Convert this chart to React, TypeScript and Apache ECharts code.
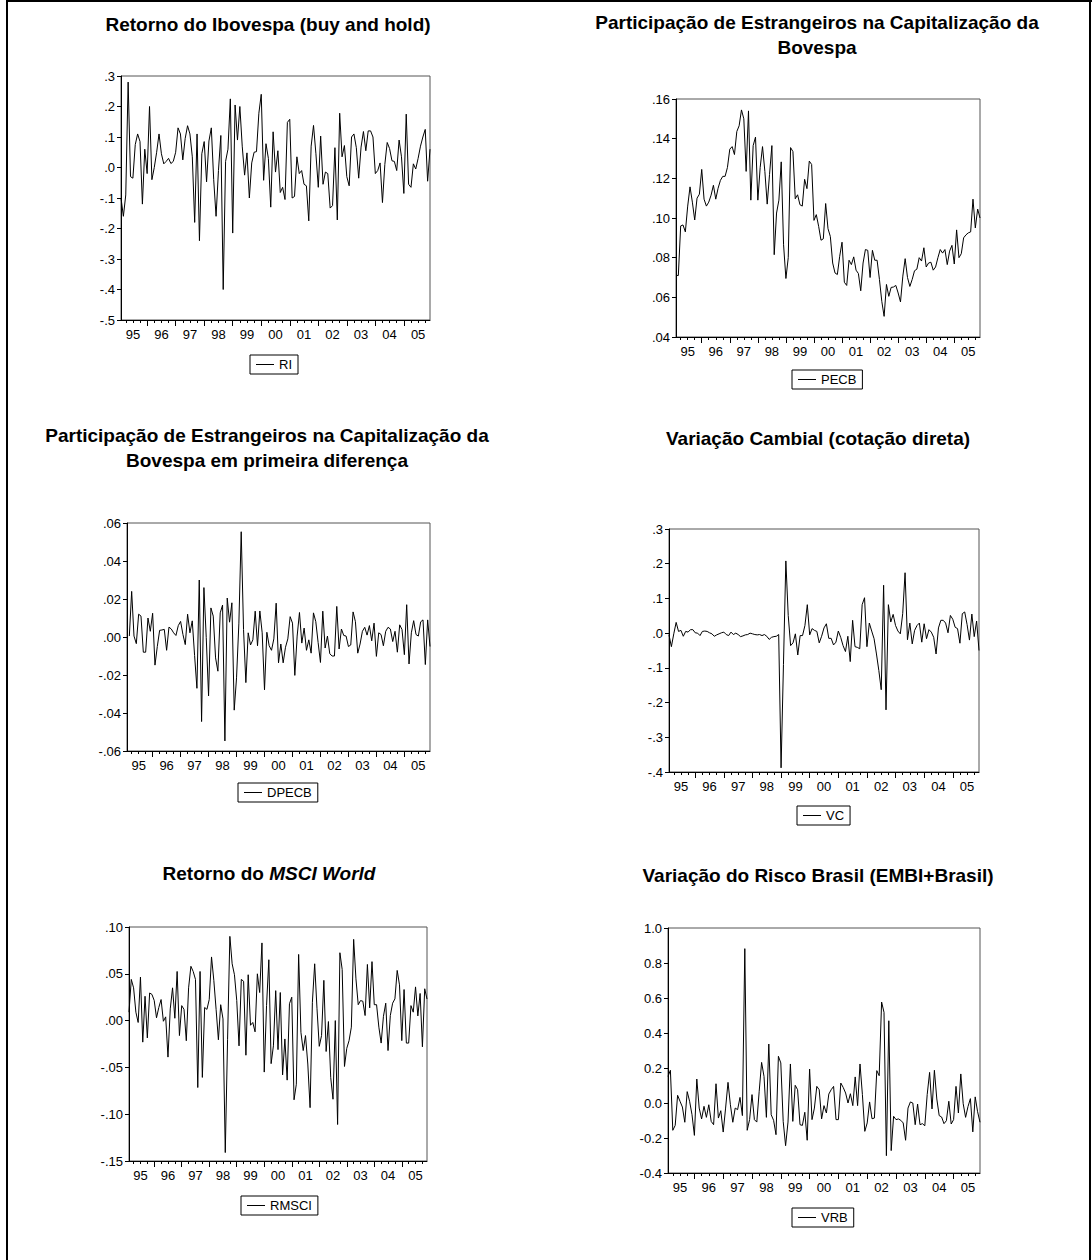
import React, { useEffect, useRef } from "react";
import * as echarts from "echarts";

const FONT = "'Liberation Sans', Arial, Helvetica, sans-serif";

// Monthly sample 1995:02 – 2005:12
const START_YEAR = 1995;
const START_MONTH = 2;
const N_OBS = 131;
const months: string[] = Array.from({ length: N_OBS }, (_, i) => {
  const t = START_MONTH - 1 + i;
  const y = START_YEAR + Math.floor(t / 12);
  const m = (t % 12) + 1;
  return `${y}-${String(m).padStart(2, "0")}`;
});
const monthOf = (i: number) => (START_MONTH - 1 + i) % 12; // 0 = Jan

const RI = [
  -0.10, -0.16, -0.09, 0.28, -0.03, -0.035, 0.075, 0.11, 0.085, -0.12, 0.06, -0.02,
  0.20, -0.04, 0.00, 0.05, 0.11, 0.045, 0.012, 0.02, 0.03, 0.013, 0.02, 0.05,
  0.13, 0.11, 0.025, 0.095, 0.137, 0.11, 0.035, -0.18, 0.11, -0.24, 0.045, 0.085,
  -0.047, 0.087, 0.13, -0.04, -0.16, -0.01, 0.105, -0.40, 0.02, 0.06, 0.225, -0.215,
  0.205, 0.09, 0.20, 0.07, -0.025, 0.048, -0.10, 0.015, 0.05, 0.052, 0.178, 0.24,
  -0.042, 0.078, 0.03, -0.13, 0.117, -0.015, 0.055, -0.082, -0.065, -0.105, 0.148, 0.158,
  -0.10, -0.095, 0.035, -0.02, -0.01, -0.055, -0.06, -0.175, 0.07, 0.138, 0.045, -0.065,
  0.103, -0.055, -0.015, -0.02, -0.133, -0.125, 0.065, -0.172, 0.178, 0.035, 0.072, -0.03,
  -0.06, 0.10, 0.11, 0.065, -0.035, 0.067, 0.118, 0.055, 0.12, 0.12, 0.10, -0.02,
  -0.01, 0.015, -0.115, 0.01, 0.082, 0.062, 0.022, 0.02, -0.01, 0.09, 0.035, -0.085,
  0.175, -0.055, -0.065, 0.012, -0.005, 0.03, 0.07, 0.10, 0.125, -0.045, 0.06,
];

const PECB = [
  0.0711, 0.071, 0.096, 0.0965, 0.093, 0.106, 0.1157, 0.108, 0.099, 0.110, 0.112, 0.1245,
  0.1095, 0.106, 0.108, 0.1115, 0.1165, 0.1095, 0.115, 0.119, 0.121, 0.121, 0.1255, 0.1347,
  0.136, 0.132, 0.1436, 0.1465, 0.1545, 0.150, 0.1235, 0.154, 0.109, 0.1365, 0.1408, 0.109,
  0.1255, 0.136, 0.1235, 0.107, 0.122, 0.1365, 0.0815, 0.1025, 0.109, 0.1283, 0.0865, 0.0695,
  0.080, 0.1355, 0.1335, 0.1097, 0.1117, 0.1067, 0.106, 0.1195, 0.1148, 0.1287, 0.127, 0.0988,
  0.1017, 0.0958, 0.0888, 0.0895, 0.1073, 0.0946, 0.0907, 0.0773, 0.0723, 0.0715, 0.0807, 0.0878,
  0.0676, 0.066, 0.0787, 0.0765, 0.0804, 0.0737, 0.072, 0.0633, 0.0773, 0.0841, 0.0837, 0.070,
  0.0837, 0.0787, 0.0787, 0.069, 0.058, 0.0504, 0.0665, 0.0605, 0.065, 0.0652, 0.066, 0.0622,
  0.0577, 0.0707, 0.0795, 0.070, 0.0655, 0.069, 0.0734, 0.0742, 0.080, 0.0783, 0.085, 0.0753,
  0.0773, 0.0777, 0.0737, 0.0753, 0.080, 0.0841, 0.0823, 0.0841, 0.0765, 0.0833, 0.0862, 0.0768,
  0.094, 0.080, 0.082, 0.090, 0.0915, 0.0925, 0.093, 0.1095, 0.095, 0.1045, 0.100,
];

const DPECB = [
  null, 0.0005, 0.024, 0.0005, -0.0035, 0.012, 0.011, -0.008, -0.008, 0.010, 0.003, 0.0125,
  -0.0148, -0.005, 0.0035, 0.0037, 0.004, -0.007, 0.0052, 0.0042, 0.0022, 0.0008, 0.006, 0.0082,
  0.0013, -0.004, 0.012, 0.0022, 0.0085, -0.0097, -0.027, 0.030, -0.0445, 0.026, -0.0003, -0.031,
  0.0153, 0.011, -0.011, -0.018, 0.0127, 0.0168, -0.0547, 0.0205, 0.0078, 0.018, -0.0385, -0.0215,
  0.0073, 0.0554, 0.0039, -0.024, 0.0022, -0.0042, -0.0015, 0.0136, -0.0046, 0.0137, 0.0022, -0.0278,
  0.0025, -0.0046, -0.007, -0.001, 0.0178, -0.0136, -0.0037, -0.0136, -0.0054, -0.001, 0.0107, 0.0073,
  -0.0202, 0.0005, 0.0129, -0.0032, 0.0047, -0.007, -0.0015, -0.0085, 0.0127, 0.0081, -0.0029, -0.0134,
  0.0136, -0.0058, 0.0005, -0.0088, -0.01, -0.01, 0.0161, -0.0063, 0.0042, 0.0008, 0.0005, -0.005,
  -0.0042, 0.0132, 0.0081, -0.0085, -0.0037, 0.003, 0.0051, 0.001, 0.006, -0.002, 0.0073, -0.0102,
  0.0022, 0.0013, -0.0046, 0.003, 0.0051, 0.0042, -0.0024, 0.003, -0.008, 0.0064, 0.0039, -0.0093,
  0.017, -0.0142, 0.0022, 0.0086, 0.0013, 0.0005, 0.008, 0.009, -0.0145, 0.009, -0.005,
];

const VC = [
  -0.005, -0.039, -0.002, 0.031, 0.005, 0.008, -0.009, 0.005, 0.003, 0.01, 0.01, 0.001,
  0.0, -0.007, 0.005, 0.006, 0.005, 0.001, -0.002, -0.009, -0.005, -0.002, 0.001, 0.003,
  -0.004, -0.007, 0.003, -0.004, 0.0, -0.004, -0.01, -0.008, -0.005, -0.004, 0.0, -0.002,
  -0.004, -0.005, -0.004, -0.007, -0.004, -0.009, -0.018, -0.012, -0.01, -0.009, -0.004, -0.388,
  -0.09, 0.208, 0.051, -0.036, -0.028, -0.002, -0.063, -0.007, -0.007, 0.022, 0.082, -0.005,
  0.013, 0.008, 0.005, -0.028, -0.009, 0.015, 0.027, -0.015, -0.015, -0.034, -0.026, 0.006,
  -0.012, -0.036, -0.053, -0.009, -0.082, 0.037, -0.039, -0.041, -0.045, 0.082, 0.102, -0.039,
  0.029, 0.006, -0.016, -0.06, -0.108, -0.163, 0.138, -0.221, 0.082, 0.032, 0.054, 0.022,
  0.006, -0.002, 0.056, 0.174, -0.019, 0.029, -0.031, 0.008, 0.022, 0.029, -0.026, 0.027,
  -0.016, 0.010, 0.003, -0.012, -0.060, 0.015, 0.037, 0.037, 0.029, 0.001, 0.051, 0.040,
  0.017, 0.013, -0.029, 0.056, 0.061, 0.025, -0.02, 0.055, -0.01, 0.035, -0.05,
];

const RMSCI = [
  0.009, 0.044, 0.035, 0.009, -0.002, 0.0465, -0.023, 0.026, -0.0185, 0.0295, 0.028, 0.0215,
  0.003, 0.014, 0.0225, -0.0007, 0.004, -0.039, 0.0125, 0.035, 0.0025, 0.0525, -0.016, 0.016,
  0.012, -0.0215, 0.035, 0.058, 0.0525, 0.044, -0.0715, 0.0525, -0.0607, 0.014, 0.012, 0.0225,
  0.068, 0.043, 0.012, -0.0205, 0.017, 0.0018, -0.141, -0.02, 0.09, 0.0607, 0.049, 0.0215,
  -0.027, 0.044, 0.042, -0.037, 0.049, -0.005, -0.002, -0.012, 0.05, 0.030, 0.083, -0.055,
  0.016, 0.065, -0.046, -0.027, 0.032, -0.031, 0.030, -0.058, -0.0196, -0.0636, 0.018, 0.025,
  -0.0846, -0.068, 0.0707, -0.0125, -0.032, -0.016, -0.0464, -0.093, 0.0196, 0.0607, 0.0132, -0.0275,
  -0.016, 0.043, -0.033, -0.001, -0.061, -0.084, 0.0, -0.111, 0.0725, 0.0546, -0.049, -0.0296,
  -0.0214, -0.007, 0.0868, 0.0446, 0.017, 0.0214, 0.0207, 0.0054, 0.06, 0.0136, 0.063, 0.017,
  0.017, -0.007, -0.024, 0.0046, 0.0186, -0.032, 0.0054, 0.0186, 0.0232, 0.0536, 0.0382, -0.0214,
  0.0332, -0.024, -0.024, 0.016, 0.009, 0.036, 0.005, 0.029, -0.028, 0.034, 0.023,
];

const VRB = [
  0.152, 0.187, -0.156, -0.128, 0.044, 0.01, -0.023, -0.11, 0.065, 0.01, -0.067, -0.185,
  0.137, -0.029, -0.091, -0.019, -0.082, -0.01, -0.105, -0.124, 0.11, -0.086, -0.044, -0.166,
  -0.029, 0.118, -0.01, -0.11, -0.029, -0.038, 0.032, -0.072, 0.882, -0.156, -0.095, 0.048,
  -0.095, -0.109, 0.067, 0.232, 0.152, -0.082, 0.337, -0.067, -0.099, -0.181, 0.267, 0.229,
  -0.105, -0.244, -0.109, 0.223, -0.105, 0.101, 0.076, -0.124, -0.128, -0.053, -0.213, 0.194,
  -0.095, -0.029, 0.095, 0.076, -0.091, -0.015, -0.057, 0.051, 0.076, 0.095, -0.095, -0.095,
  0.114, 0.089, 0.057, 0.0, 0.053, -0.015, 0.149, -0.015, 0.223, 0.048, -0.162, -0.114,
  0.006, -0.09, -0.086, 0.185, 0.156, 0.577, 0.518, -0.301, 0.47, -0.272, -0.076, -0.095,
  -0.091, -0.099, -0.114, -0.213, -0.029, 0.006, 0.0, -0.124, -0.006, -0.124, -0.118, -0.13,
  0.048, 0.175, -0.034, 0.187, 0.023, -0.072, -0.08, -0.118, -0.101, 0.01, -0.12, -0.095,
  0.095, -0.057, 0.166, -0.004, -0.082, -0.02, 0.025, -0.165, 0.035, -0.05, -0.11,
];

const dotFmt = (d: number) => (v: number) => {
  const r = Math.round(v * Math.pow(10, d)) / Math.pow(10, d);
  const s = Math.abs(r).toFixed(d).replace(/^0/, "");
  return (r < 0 ? "-" : "") + s;
};
const zeroFmt = (d: number) => (v: number) => {
  const r = Math.round(v * Math.pow(10, d)) / Math.pow(10, d);
  return (r < 0 ? "-" : "") + Math.abs(r).toFixed(d);
};

type Panel = {
  name: string;
  data: (number | null)[];
  title: string;
  rich?: boolean;
  min: number;
  max: number;
  interval: number;
  fmt: (v: number) => string;
  box: [number, number, number, number]; // left, top, right, bottom
  titlePos: [number, number];
  legendPos: [number, number];
};

const panels: Panel[] = [
  {
    name: "RI", data: RI, title: "Retorno do Ibovespa (buy and hold)",
    min: -0.5, max: 0.3, interval: 0.1, fmt: dotFmt(1),
    box: [121, 76, 430, 320], titlePos: [268, 24], legendPos: [250, 355],
  },
  {
    name: "PECB", data: PECB, title: "Participação de Estrangeiros na Capitalização da\nBovespa",
    min: 0.04, max: 0.16, interval: 0.02, fmt: dotFmt(2),
    box: [676, 99, 980, 337], titlePos: [817, 35], legendPos: [792, 370],
  },
  {
    name: "DPECB", data: DPECB, title: "Participação de Estrangeiros na Capitalização da\nBovespa em primeira diferença",
    min: -0.06, max: 0.06, interval: 0.02, fmt: dotFmt(2),
    box: [127, 523, 430, 751], titlePos: [267, 448], legendPos: [238, 783],
  },
  {
    name: "VC", data: VC, title: "Variação Cambial (cotação direta)",
    min: -0.4, max: 0.3, interval: 0.1, fmt: dotFmt(1),
    box: [669, 529, 979, 772], titlePos: [818, 438], legendPos: [797, 806],
  },
  {
    name: "RMSCI", data: RMSCI, title: "{a|Retorno do }{b|MSCI World}", rich: true,
    min: -0.15, max: 0.1, interval: 0.05, fmt: dotFmt(2),
    box: [129, 927, 427, 1161], titlePos: [269, 873], legendPos: [241, 1196],
  },
  {
    name: "VRB", data: VRB, title: "Variação do Risco Brasil (EMBI+Brasil)",
    min: -0.4, max: 1.0, interval: 0.2, fmt: zeroFmt(1),
    box: [668, 928, 980, 1173], titlePos: [818, 875], legendPos: [792, 1208],
  },
];

function buildOption() {
  const grid: any[] = [];
  const xAxis: any[] = [];
  const yAxis: any[] = [];
  const series: any[] = [];
  const legend: any[] = [];
  const graphic: any[] = [
    { type: "rect", shape: { x: 6, y: 0, width: 2, height: 1260 }, style: { fill: "#000" }, silent: true },
    { type: "rect", shape: { x: 6, y: 0, width: 1086, height: 2 }, style: { fill: "#000" }, silent: true },
    { type: "rect", shape: { x: 1089, y: 0, width: 2, height: 1260 }, style: { fill: "#000" }, silent: true },
  ];

  panels.forEach((p, k) => {
    const [l, t, r, b] = p.box;
    grid.push({
      left: l, top: t, width: r - l, height: b - t,
      show: true, borderColor: "#555", borderWidth: 1, backgroundColor: "transparent",
    });
    xAxis.push({
      type: "category", gridIndex: k, data: months, boundaryGap: false, position: "bottom", offset: 0,
      axisLine: { show: true, onZero: false, lineStyle: { color: "#000", width: 1 } },
      axisTick: { show: true, interval: (i: number) => monthOf(i) === 0, length: 6, lineStyle: { color: "#000", width: 1 } },
      axisLabel: {
        show: true, interval: (i: number) => monthOf(i) === 6,
        formatter: (v: string) => v.slice(2, 4),
        fontSize: 13, color: "#000", fontFamily: FONT, margin: 8,
      },
      splitLine: { show: false },
    });
    xAxis.push({
      type: "category", gridIndex: k, data: months, boundaryGap: false, position: "bottom", offset: 0,
      axisLine: { show: false, onZero: false },
      axisTick: { show: true, interval: (i: number) => monthOf(i) % 3 === 0, length: 3, lineStyle: { color: "#000", width: 1 } },
      axisLabel: { show: false },
      splitLine: { show: false },
    });
    yAxis.push({
      type: "value", gridIndex: k, min: p.min, max: p.max, interval: p.interval,
      axisLine: { show: true, onZero: false, lineStyle: { color: "#000", width: 1 } },
      axisTick: { show: true, length: 4, lineStyle: { color: "#000", width: 1 } },
      axisLabel: { formatter: p.fmt, fontSize: 13, color: "#000", fontFamily: FONT, margin: 6 },
      splitLine: { show: false },
    });
    series.push({
      name: p.name, type: "line", xAxisIndex: 2 * k, yAxisIndex: k, data: p.data,
      showSymbol: false, symbol: "none", connectNulls: false,
      lineStyle: { color: "#000", width: 1 }, itemStyle: { color: "#000" },
    });
    legend.push({
      data: [p.name], left: p.legendPos[0], top: p.legendPos[1], orient: "horizontal",
      icon: "rect", itemWidth: 18, itemHeight: 1, itemGap: 0,
      borderColor: "#000", borderWidth: 1, borderRadius: 0, padding: [3, 6, 3, 6],
      backgroundColor: "#fff", selectedMode: false,
      textStyle: { fontSize: 13, color: "#000", fontFamily: FONT },
    });
    const baseFont = { fontWeight: "bold", fontSize: 19, fontFamily: FONT, fill: "#000" };
    graphic.push({
      type: "text", x: p.titlePos[0], y: p.titlePos[1], silent: true,
      style: {
        text: p.title,
        font: `bold 19px ${FONT}`,
        fill: "#000",
        textAlign: "center", textVerticalAlign: "middle",
        align: "center", verticalAlign: "middle",
        lineHeight: 25,
        rich: p.rich
          ? { a: { ...baseFont }, b: { ...baseFont, fontStyle: "italic" } }
          : undefined,
      },
    });
  });

  return {
    animation: false,
    backgroundColor: "#fff",
    textStyle: { fontFamily: FONT },
    grid, xAxis, yAxis, series, legend, graphic,
  };
}

export default function App() {
  const ref = useRef<HTMLDivElement>(null);
  useEffect(() => {
    if (!ref.current) return;
    const chart = echarts.init(ref.current, undefined, { renderer: "svg" });
    chart.setOption(buildOption() as any);
    return () => chart.dispose();
  }, []);
  return (
    <div
      ref={ref}
      style={{ position: "fixed", left: 0, top: 0, width: 1092, height: 1260, background: "#fff" }}
    />
  );
}
